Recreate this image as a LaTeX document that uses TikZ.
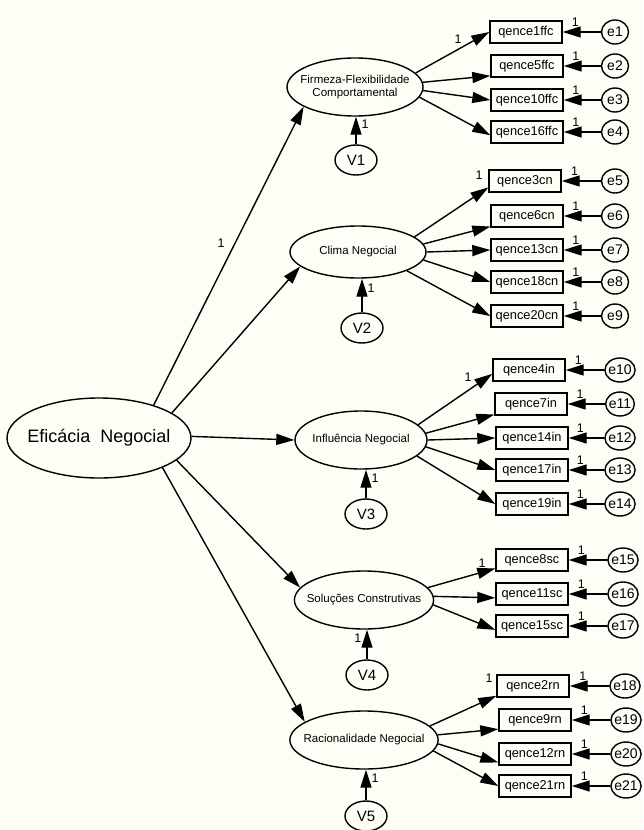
\documentclass[tikz,border=0pt]{standalone}
\usepackage{fontspec}
\setmainfont{Liberation Sans}
\usetikzlibrary{shapes.geometric,arrows.meta}
\definecolor{paper}{RGB}{254,254,247}

\begin{document}
\begin{tikzpicture}[x=1pt,y=-1pt,line width=1.4pt,
    arr/.style={-{Triangle[length=18pt,width=11pt]}},
    factor/.style={draw,ellipse,minimum width=136pt,minimum height=58pt,inner xsep=-8pt,inner ysep=0pt,align=center,font=\fontsize{11.5}{12.5}\selectfont},
    ind/.style={draw,rectangle,minimum width=72pt,minimum height=22pt,inner sep=0pt,font=\fontsize{12.8}{14}\selectfont},
    err/.style={draw,ellipse,minimum width=27pt,minimum height=24pt,inner xsep=-1pt,inner ysep=0pt,font=\fontsize{14}{16}\selectfont},
    dist/.style={draw,ellipse,minimum width=42pt,minimum height=30pt,inner sep=0pt,font=\fontsize{15}{17}\selectfont},
    one/.style={inner sep=1pt,font=\fontsize{12.5}{14}\selectfont}]
                \fill[paper] (0,0) rectangle (643,830);
                \useasboundingbox (0,0) rectangle (643,830);
                % second order factor
                \node[draw,ellipse,minimum width=184pt,minimum height=80pt,inner sep=-10pt,font=\fontsize{18}{20}\selectfont] (eff) at (99,438) {Eficácia\ \ Negocial};
                % first order factors
                \node[factor] (f1) at (355,87) {Firmeza-Flexibilidade\\Comportamental};
                \node[factor,minimum height=52pt] (f2) at (358,252) {Clima Negocial};
                \node[factor,minimum width=132pt] (f3) at (361,440) {Influência Negocial};
                \node[factor] (f4) at (364,600) {Soluções Construtivas};
                \node[factor] (f5) at (364,740) {Racionalidade Negocial};
                \node[dist] (v1) at (356,160) {V1};
                \node[dist] (v2) at (362,328) {V2};
                \node[dist] (v3) at (366,514) {V3};
                \node[dist] (v4) at (367,675) {V4};
                \node[dist] (v5) at (366,816) {V5};
                % items
                \node[ind] (q1) at (526,32) {qence1ffc};
                \node[ind] (q2) at (527,66) {qence5ffc};
                \node[ind] (q3) at (527,100) {qence10ffc};
                \node[ind] (q4) at (527,132) {qence16ffc};
                \node[ind] (q5) at (525,181) {qence3cn};
                \node[ind] (q6) at (527,216) {qence6cn};
                \node[ind] (q7) at (527,250) {qence13cn};
                \node[ind] (q8) at (527,282) {qence18cn};
                \node[ind] (q9) at (527,316) {qence20cn};
                \node[ind] (q10) at (529,370) {qence4in};
                \node[ind] (q11) at (531,404) {qence7in};
                \node[ind] (q12) at (532,438) {qence14in};
                \node[ind] (q13) at (532,470) {qence17in};
                \node[ind] (q14) at (532,504) {qence19in};
                \node[ind] (q15) at (532,560) {qence8sc};
                \node[ind] (q16) at (532,594) {qence11sc};
                \node[ind] (q17) at (532,626) {qence15sc};
                \node[ind] (q18) at (533,686) {qence2rn};
                \node[ind] (q19) at (535,720) {qence9rn};
                \node[ind] (q20) at (535,754) {qence12rn};
                \node[ind] (q21) at (535,786) {qence21rn};
                % errors
                \node[err] (e1) at (615,32) {e1};
                \node[err] (e2) at (615,66) {e2};
                \node[err] (e3) at (615,100) {e3};
                \node[err] (e4) at (615,132) {e4};
                \node[err] (e5) at (615,181) {e5};
                \node[err] (e6) at (615,216) {e6};
                \node[err] (e7) at (615,250) {e7};
                \node[err] (e8) at (615,282) {e8};
                \node[err] (e9) at (615,316) {e9};
                \node[err] (e10) at (620,370) {e10};
                \node[err] (e11) at (620,404) {e11};
                \node[err] (e12) at (620,438) {e12};
                \node[err] (e13) at (620,470) {e13};
                \node[err] (e14) at (620,504) {e14};
                \node[err] (e15) at (623,560) {e15};
                \node[err] (e16) at (623,594) {e16};
                \node[err] (e17) at (623,626) {e17};
                \node[err] (e18) at (625,686) {e18};
                \node[err] (e19) at (626,720) {e19};
                \node[err] (e20) at (626,754) {e20};
                \node[err] (e21) at (626,786) {e21};
                % fixed loadings
                \node[one] (w0) at (221,243) {1};
                \node[one] (w1) at (458,39) {1};
                \node[one] (w2) at (479,175) {1};
                \node[one] (w3) at (468,377) {1};
                \node[one] (w4) at (482,563) {1};
                \node[one] (w5) at (489,678) {1};
                % paths
                \draw[arr] (eff.31) to (f1.201);
                \draw[arr] (eff.19) to (f2.194);
                \draw[arr] (eff.1) to (f3.west);
                \draw[arr] (eff.-16) to (f4.169);
                \draw[arr] (eff.-25) to (f5.163);
                \draw[arr] (f1.13) to (q1.west);
                \draw[arr] (f1.4) to (q2.195);
                \draw[arr] (f1.-3) to (q3.west);
                \draw[arr] (f1.-9) to (q4.185);
                \draw[arr] (f2.15) to (q5.190);
                \draw[arr] (f2.7) to (q6.196);
                \draw[arr] (f2.0) to (q7.west);
                \draw[arr] (f2.-7) to (q8.west);
                \draw[arr] (f2.-21) to (q9.west);
                \draw[arr] (f3.15) to (q10.186);
                \draw[arr] (f3.6) to (q11.196);
                \draw[arr] (f3.0) to (q12.west);
                \draw[arr] (f3.-6) to (q13.west);
                \draw[arr] (f3.-16) to (q14.west);
                \draw[arr] (f4.11) to (q15.193);
                \draw[arr] (f4.3) to (q16.186);
                \draw[arr] (f4.-4) to (q17.186);
                \draw[arr] (f5.12) to (q18.195);
                \draw[arr] (f5.4) to (q19.194);
                \draw[arr] (f5.-3) to (q20.193);
                \draw[arr] (f5.-9) to (q21.west);
                \draw[arr] (v1) to node[one,pos=0.72,right=4pt] {1} (v1 |- f1.south);
                \draw[arr] (v2) to node[one,pos=0.72,right=4pt] {1} (v2 |- f2.south);
                \draw[arr] (v3) to node[one,pos=0.72,right=4pt] {1} (v3 |- f3.south);
                \draw[arr] (v4) to node[one,pos=0.72,left=4pt] {1} (v4 |- f4.south);
                \draw[arr] (v5) to node[one,pos=0.72,right=4pt] {1} (v5 |- f5.south);
                \draw[arr] (e1) to node[one,pos=0.67,above=4pt] {1} (q1);
                \draw[arr] (e2) to node[one,pos=0.67,above=4pt] {1} (q2);
                \draw[arr] (e3) to node[one,pos=0.67,above=4pt] {1} (q3);
                \draw[arr] (e4) to node[one,pos=0.67,above=4pt] {1} (q4);
                \draw[arr] (e5) to node[one,pos=0.67,above=4pt] {1} (q5);
                \draw[arr] (e6) to node[one,pos=0.67,above=4pt] {1} (q6);
                \draw[arr] (e7) to node[one,pos=0.67,above=4pt] {1} (q7);
                \draw[arr] (e8) to node[one,pos=0.67,above=4pt] {1} (q8);
                \draw[arr] (e9) to node[one,pos=0.67,above=4pt] {1} (q9);
                \draw[arr] (e10) to node[one,pos=0.67,above=4pt] {1} (q10);
                \draw[arr] (e11) to node[one,pos=0.67,above=4pt] {1} (q11);
                \draw[arr] (e12) to node[one,pos=0.67,above=4pt] {1} (q12);
                \draw[arr] (e13) to node[one,pos=0.67,above=4pt] {1} (q13);
                \draw[arr] (e14) to node[one,pos=0.67,above=4pt] {1} (q14);
                \draw[arr] (e15) to node[one,pos=0.67,above=4pt] {1} (q15);
                \draw[arr] (e16) to node[one,pos=0.67,above=4pt] {1} (q16);
                \draw[arr] (e17) to node[one,pos=0.67,above=4pt] {1} (q17);
                \draw[arr] (e18) to node[one,pos=0.67,above=4pt] {1} (q18);
                \draw[arr] (e19) to node[one,pos=0.67,above=4pt] {1} (q19);
                \draw[arr] (e20) to node[one,pos=0.67,above=4pt] {1} (q20);
                \draw[arr] (e21) to node[one,pos=0.67,above=4pt] {1} (q21);
\end{tikzpicture}
\end{document}
